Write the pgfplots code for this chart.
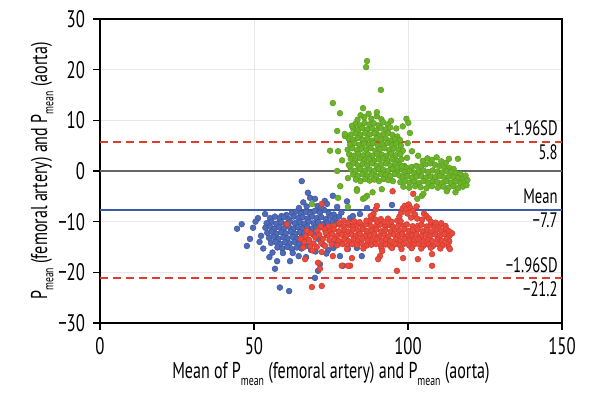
\documentclass[border=0pt]{standalone}
\usepackage{pgfplots}
\pgfplotsset{compat=1.18}
\usepackage{fontspec}
\setmainfont{PT Sans}[FakeStretch=0.7]
\definecolor{cblue}{HTML}{4F6BB8}
\definecolor{cbluee}{HTML}{3A54A0}
\definecolor{cred}{HTML}{EA4A3C}
\definecolor{crede}{HTML}{D03A2C}
\definecolor{cgreen}{HTML}{6DB32A}
\definecolor{cgreene}{HTML}{5A9E1E}
\definecolor{cmean}{HTML}{3D5AA8}
\definecolor{cdash}{HTML}{E03C2C}
\newcommand{\Pm}{P\raisebox{-0.55ex}{\fontsize{7}{7}\selectfont mean}}
\begin{document}
\begin{tikzpicture}
\begin{axis}[
  scale only axis, width=231bp, height=152bp,
  xmin=0, xmax=150, ymin=-30, ymax=30,
  xtick={0,50,100,150}, xticklabels={0,50,100,150},
  ytick={-30,-20,-10,0,10,20,30},
  yticklabels={−30,−20,−10,0,10,20,30},
  xtick pos=bottom, ytick pos=left,
  tick align=outside, major tick length=3.5bp,
  tick style={black, line width=0.8bp},
  axis line style={black, line width=0.9bp},
  grid=major, grid style={black!9, line width=0.4bp},
  ticklabel style={font=\fontsize{12}{13}\selectfont},
  yticklabel style={xshift=-0.5bp},
  xlabel={Mean of \Pm{} (femoral artery) and \Pm{} (aorta)},
  ylabel={\Pm{} (femoral artery) and \Pm{} (aorta)},
  label style={font=\fontsize{11.5}{13}\selectfont},
  xlabel style={at={(axis description cs:0.5,0)}, anchor=base, yshift=-28bp},
  ylabel style={at={(axis description cs:-0.1147,0.5)}, anchor=base},
  clip=true,
]
% blue series
\addplot[only marks, mark=*, mark size=1.45bp, mark options={fill=cblue, draw=cbluee, line width=0.25bp}] coordinates {
(62.3,-8.3)(63.8,-8.0)(65.2,-8.4)(66.9,-8.1)(68.3,-8.5)(69.7,-7.9)(71.4,-8.2)(72.8,-7.7)(74.3,-8.4)(75.9,-8.6)(60.5,-8.7)(58.9,-8.9)
(55.2,-9.3)(56.8,-9.0)(58.3,-9.4)(59.7,-9.1)(61.2,-9.5)(62.9,-9.0)(64.4,-9.3)(65.8,-9.1)(67.3,-9.4)(68.9,-9.0)(70.4,-9.3)(71.8,-9.1)(73.3,-9.5)(74.8,-9.0)(76.4,-9.4)(77.6,-9.0)
(54.1,-10.3)(55.7,-10.0)(57.2,-10.4)(58.8,-10.1)(60.3,-10.5)(61.7,-10.0)(63.3,-10.3)(64.9,-10.1)(66.2,-10.4)(67.8,-10.0)(69.4,-10.3)(70.8,-10.1)(72.3,-10.5)(73.9,-10.2)(75.5,-10.0)(76.8,-10.4)
(53.7,-11.2)(55.2,-11.0)(56.6,-11.4)(58.2,-11.1)(59.7,-11.3)(61.3,-11.0)(62.8,-11.4)(64.3,-11.1)(65.7,-11.3)(67.3,-11.0)(68.8,-11.4)(70.2,-11.2)(71.8,-11.0)(73.2,-11.3)
(54.3,-12.2)(55.8,-12.0)(57.3,-12.4)(58.8,-12.1)(60.3,-12.3)(61.9,-12.0)(63.4,-12.4)(64.9,-12.1)(66.3,-12.3)(67.8,-12.0)
(54.9,-13.2)(56.4,-13.0)(57.9,-13.4)(59.5,-13.1)(60.9,-13.3)(62.5,-13.0)(64.0,-13.4)(65.4,-13.1)(66.6,-13.5)
(55.5,-14.2)(57.0,-14.0)(58.6,-14.4)(60.1,-14.1)(61.6,-14.3)(63.1,-14.0)(64.6,-14.4)(66.1,-14.2)(67.5,-14.8)
(57.6,-15.1)(59.2,-15.3)(60.8,-15.0)(62.3,-15.4)(63.9,-15.1)(65.4,-15.3)(68.5,-15.6)(70.0,-15.9)
(69.3,-12.5)(70.8,-13.4)(72.4,-14.5)(74.1,-15.6)(75.8,-15.2)(73.5,-16.3)(76.6,-14.0)
(65.5,-2.0)(67.5,-4.3)(68.2,-5.3)(69.8,-5.5)(73,-5.9)(73.7,-6.5)(70.6,-6.9)(71.9,-7.2)(67.1,-7.0)(64.6,-7.3)(66.0,-6.2)(75.6,-4.9)(80.2,-6.0)(77.0,-7.1)(78.4,-8.2)(81.2,-9.3)(82.1,-8.9)(84.4,-8.5)(86.7,-7.3)(94.8,-6.7)(80.5,-15.4)(83.4,-15.2)(77.9,-16.8)(78.9,-18.7)(85,-16.8)
(44.5,-11.4)(46,-10.5)(47.7,-14.8)(48.7,-13.4)(51.3,-9.3)(53.6,-8.5)(49.7,-11.2)(52.3,-12.8)(51.8,-14.0)(50.5,-10.0)(53.0,-15.3)(56.0,-16.1)
(56.8,-19.3)(57.5,-17.8)(61.7,-17.8)(58.4,-23)(61.4,-23.7)(69.8,-21.1)(70.8,-19.7)(71.4,-18.4)(59.4,-16.2)(62.6,-16.2)(64.5,-16.8)(66.9,-17.0)(55.0,-17.0)
};
% red series
\addplot[only marks, mark=*, mark size=1.45bp, mark options={fill=cred, draw=crede, line width=0.25bp}] coordinates {
(76,-10.8)(77.8,-10.6)(79.1,-10.95)(80.9,-10.7)(82.2,-11.0)(83.6,-10.65)(85.2,-10.85)(86.3,-10.55)(88,-10.9)(89.8,-10.8)(90.9,-10.6)(92.6,-10.95)(94.1,-10.7)(95.2,-11.0)(97.1,-10.65)(98.7,-10.85)(99.6,-10.55)(101.5,-10.9)(103.3,-10.8)(104.4,-10.6)(106.1,-10.95)(107.6,-10.7)(108.7,-11.0)(110.6,-10.65)(112.2,-10.85)
(74.7,-11.75)(75.9,-11.55)(77.6,-11.9)(79.4,-11.65)(80.6,-11.95)(82.1,-11.6)(83.9,-11.8)(85.3,-11.5)(86.6,-11.85)(88.2,-11.75)(89.7,-11.55)(91.3,-11.9)(92.6,-11.65)(94.4,-11.95)(95.8,-11.6)(97.2,-11.8)(98.9,-11.5)(100.3,-11.85)(101.6,-11.75)(103.2,-11.55)(104.8,-11.9)(106.2,-11.65)(107.5,-11.95)(109.3,-11.6)(110.8,-11.8)(112.4,-11.5)(113.3,-11.9)
(73.8,-12.7)(75.3,-12.5)(76.9,-12.85)(78.6,-12.6)(79.9,-12.9)(81.7,-12.55)(83.1,-12.75)(84.4,-12.45)(86.2,-12.8)(87.7,-12.7)(89.1,-12.5)(90.8,-12.85)(92.3,-12.6)(93.6,-12.9)(95.4,-12.55)(96.8,-12.75)(98.1,-12.45)(99.9,-12.8)(101.3,-12.7)(102.7,-12.5)(104.4,-12.85)(105.8,-12.6)(107.1,-12.9)(108.9,-12.55)(110.3,-12.75)(111.8,-12.45)(113.5,-12.8)
(74.5,-13.65)(76.1,-13.45)(77.5,-13.8)(79.3,-13.55)(80.7,-13.85)(82.4,-13.5)(83.8,-13.7)(85.1,-13.4)(86.9,-13.75)(88.4,-13.65)(89.8,-13.45)(91.5,-13.8)(92.9,-13.55)(94.3,-13.85)(96.1,-13.5)(97.5,-13.7)(98.8,-13.4)(100.6,-13.75)(102,-13.65)(103.4,-13.45)(105.1,-13.8)(106.5,-13.55)(107.9,-13.85)(109.6,-13.5)(111,-13.7)(112.6,-13.4)(113.4,-13.9)
(75.2,-14.5)(77,-14.65)(78.7,-14.4)(80.3,-14.7)(81.9,-14.45)(83.4,-14.6)(85,-14.35)(86.6,-14.7)(88.1,-14.55)(89.6,-14.4)(91.2,-14.75)(92.7,-14.5)(94.2,-14.8)(95.9,-14.45)(97.4,-14.65)(98.8,-14.35)(100.4,-14.7)(101.9,-14.55)(103.5,-14.4)(105,-14.75)(106.6,-14.5)(108.1,-14.8)(109.7,-14.45)(111.2,-14.65)(112.7,-14.4)
(91.4,-15.3)(94.8,-15.2)(97.9,-15.4)(101.2,-15.25)(104.3,-15.3)(107.4,-15.15)(110.5,-15.3)(113.2,-15.0)(85.5,-15.3)(80.2,-15.4)
(87.6,-9.9)(88.2,-9.2)(88.8,-8.5)(89.4,-9.6)(87.9,-8.9)(90.1,-10.0)(86.5,-9.8)(91.2,-9.5)(89.5,-7.6)(89.9,-6.9)
(96.5,-9.8)(97.2,-9.0)(97.8,-8.2)(98.3,-7.4)(98.9,-6.9)(99.5,-7.6)(100.2,-6.6)(100.8,-7.3)(101.6,-7.9)(102.3,-8.6)(103,-9.4)(99.8,-8.4)(101,-9.2)(97.6,-9.9)(102.8,-7.0)
(105.2,-8.4)(106,-8.9)(106.8,-9.4)(104.6,-9.6)(107.4,-10.0)
(92.4,-10.1)(93.5,-9.4)(94.6,-10.0)(84.3,-10.1)(82.5,-9.9)(80.6,-10.2)(79.1,-9.8)(77.6,-10.3)(109,-10.2)(110.8,-10.3)
(95,-4.0)(101.7,-4.5)(91.6,-15.8)(90.9,-16.8)(90.3,-17.4)(96.4,-19.7)(98.4,-17.2)(103.2,-17.4)(107.8,-16.4)(107.8,-18.7)(113.6,-15.4)(81.8,-17.2)(81.2,-18.7)(75.6,-16.8)(66.6,-17.4)(70.8,-18.1)(71.4,-19.3)(68.8,-22.9)(72,-22.7)(78.5,-18.7)(80.5,-18.7)(60.7,-10.5)(72,-6.5)(114.3,-12.3)
(65.2,-13.4)(66.3,-14.0)(66.8,-12.9)(67.9,-13.6)(68.4,-12.3)(69.3,-14.3)(69.9,-13.1)(70.6,-11.8)(71.2,-12.6)(71.8,-14.1)(72.4,-13.4)(72.9,-11.5)(73.3,-12.2)(73.1,-14.8)(70.4,-15.0)(68.2,-14.9)(67.2,-11.8)(71.7,-10.9)(74.2,-10.9)(72.0,-16.0)(69.0,-15.7)(66.0,-15.1)
};
% green series
\addplot[only marks, mark=*, mark size=1.45bp, mark options={fill=cgreen, draw=cgreene, line width=0.25bp}] coordinates {
(83.6,10.1)(85.8,10.6)(88.1,10.3)(89.9,10.8)(91.4,10.2)(99.5,10.3)(87.2,11.3)(84.6,11.0)
(82.9,9.3)(84.4,9.0)(85.9,9.5)(87.5,9.2)(88.9,9.4)(90.4,9.0)(91.9,9.6)(93.4,9.2)(100.1,9.5)
(82.2,8.4)(83.8,8.1)(85.2,8.5)(86.8,8.2)(88.3,8.4)(89.7,8.0)(91.2,8.5)(92.8,8.2)(94.2,8.6)
(81.5,7.2)(83.0,7.4)(84.5,7.1)(86.1,7.5)(87.5,7.2)(89.1,7.4)(90.6,7.0)(92.0,7.3)(93.6,7.5)(95.0,7.1)(96.5,6.8)(100.6,7.5)
(80.7,6.4)(82.3,6.1)(83.8,6.5)(85.3,6.2)(86.8,6.4)(88.3,6.0)(89.8,6.5)(91.3,6.2)(92.8,6.4)(94.3,6.0)(95.8,6.3)(97.4,6.1)
(81.2,5.2)(82.7,5.5)(84.2,5.1)(85.8,5.4)(87.3,5.2)(88.7,5.5)(90.3,5.0)(91.7,5.3)(93.3,5.5)(94.8,5.1)(96.2,5.4)(97.7,5.0)(99.9,5.5)
(80.4,4.2)(81.9,4.5)(83.4,4.1)(84.9,4.4)(86.4,4.2)(87.9,4.5)(89.4,4.0)(90.9,4.3)(92.4,4.5)(93.9,4.1)(95.4,4.4)(96.9,4.2)(98.3,4.0)(101.3,3.9)
(80.9,3.3)(82.4,3.0)(83.9,3.4)(85.5,3.1)(87.0,3.3)(88.5,3.0)(90.0,3.4)(91.5,3.2)(93.0,3.0)(94.5,3.4)(96.0,3.1)(97.5,3.3)(99.7,2.6)
(81.4,2.4)(82.9,2.1)(84.4,2.5)(85.9,2.2)(87.4,2.4)(88.9,2.0)(90.4,2.3)(91.9,2.5)(93.4,2.1)(94.9,2.4)(96.4,2.0)(97.9,2.3)
(80.8,1.2)(82.3,1.5)(83.8,1.1)(85.3,1.4)(86.8,1.2)(88.3,1.5)(89.8,1.0)(91.3,1.3)(92.8,1.5)(94.3,1.1)(95.8,1.4)(97.3,1.2)(98.8,1.0)
(81.5,0.3)(83.0,0.0)(84.5,0.4)(86.0,0.1)(87.5,0.3)(89.0,0.0)(90.5,0.4)(92.0,0.2)(93.5,0.0)(95.0,0.4)(96.5,0.1)(98.0,0.3)
(82.2,-0.7)(83.7,-1.0)(85.2,-0.6)(86.7,-0.9)(88.2,-0.7)(89.7,-1.0)(91.2,-0.6)(92.7,-0.8)(94.2,-1.0)(95.7,-0.6)(97.2,-0.9)
(83.1,-1.7)(84.6,-2.0)(86.1,-1.6)(87.6,-1.9)(89.1,-1.7)(90.6,-2.0)(92.1,-1.6)(93.6,-1.8)(95.1,-2.0)
(77,7.9)(77.3,3.9)(74.7,4.0)(79.5,6.9)(81.8,8.9)(77,0.0)(80.5,-1.4)(81,1.0)(83.4,-3.6)(85.4,-5.5)(77.3,-5.3)(78,-3.0)(68.8,-6.5)(80.5,-7.1)(79.5,7.3)(78.6,2.1)(75.6,13.4)(77.9,11.4)
(86.7,21.7)(86.4,20.5)(91.2,16.0)(85.4,12.4)(89.9,11.6)(94.5,9.9)(96.2,8.4)(98.3,8.8)
(86.7,-4.9)(83.4,-3.9)(86,-5.3)(103,-5.5)(104.5,-4.9)(105,-4.5)(88.5,-4.2)(91.5,-3.6)
(96.5,0.7)(98.1,0.9)(99.6,0.6)(101.2,0.8)(102.7,1.0)(104.2,0.9)(105.7,1.3)(107.2,1.5)(108.8,1.2)(110.3,1.0)(111.8,0.8)(113.4,0.6)(114.8,0.4)(104.8,2.0)(106.3,2.5)(107.8,2.2)(109.3,2.7)(110.8,1.9)(112.3,1.6)(113.3,2.4)(116.2,2.4)(103.3,3.0)
(99.0,-0.2)(100.5,0.0)(102.0,-0.3)(103.5,-0.1)(105.0,0.1)(106.5,-0.2)(108.0,0.1)(109.5,-0.1)(111.0,-0.3)(112.5,0.0)(114.0,-0.2)(115.5,-0.4)(117.0,-0.6)
(98.3,-1.2)(99.8,-1.0)(101.3,-1.3)(102.8,-1.1)(104.3,-1.0)(105.8,-1.3)(107.3,-1.1)(108.8,-1.2)(110.3,-1.0)(111.8,-1.3)(113.3,-1.1)(114.8,-1.2)(116.3,-1.4)(117.8,-1.5)
(97.5,-2.2)(99.0,-2.0)(100.5,-2.3)(102.0,-2.1)(103.5,-2.4)(105.0,-2.0)(106.5,-2.3)(108.0,-2.1)(109.5,-2.2)(111.0,-2.4)(112.5,-2.0)(114.0,-2.3)(115.5,-2.1)(117.0,-2.4)(118.4,-2.2)
(98.5,-3.1)(100.4,-3.3)(102.3,-3.0)(104.1,-3.2)(106.0,-3.4)(107.8,-3.0)(109.7,-3.3)(111.5,-3.1)(113.2,-3.3)(114.8,-3.0)(116.3,-3.4)(117.8,-3.1)(119.0,-2.8)(112.6,-4.0)(115.4,-4.2)(118.7,-0.9)(119.3,-1.8)
};
% reference lines
\addplot[black!60, line width=0.8bp, forget plot] coordinates {(0,0)(150,0)};
\addplot[cmean, line width=1bp, forget plot] coordinates {(0,-7.7)(150,-7.7)};
\addplot[cdash, line width=1bp, dash pattern=on 4bp off 2.5bp, forget plot] coordinates {(0,5.8)(150,5.8)};
\addplot[cdash, line width=1bp, dash pattern=on 4bp off 2.5bp, forget plot] coordinates {(0,-21.2)(150,-21.2)};
\node[anchor=base east, font=\fontsize{10.5}{11}\selectfont, inner sep=0pt] at (axis cs:148.7,7.0) {+1.96SD};
\node[anchor=base east, font=\fontsize{10.5}{11}\selectfont, inner sep=0pt] at (axis cs:148.7,2.3) {5.8};
\node[anchor=base east, font=\fontsize{10.5}{11}\selectfont, inner sep=0pt] at (axis cs:148.7,-6.5) {Mean};
\node[anchor=base east, font=\fontsize{10.5}{11}\selectfont, inner sep=0pt] at (axis cs:148.7,-11.2) {−7.7};
\node[anchor=base east, font=\fontsize{10.5}{11}\selectfont, inner sep=0pt] at (axis cs:148.7,-20.0) {−1.96SD};
\node[anchor=base east, font=\fontsize{10.5}{11}\selectfont, inner sep=0pt] at (axis cs:148.7,-24.7) {−21.2};
\end{axis}
\pgfresetboundingbox
\path (current axis.south west) ++(-50bp,-38.5bp) coordinate (bbsw);
\path (current axis.north east) ++(19bp,9.5bp) coordinate (bbne);
\path[use as bounding box] (bbsw) rectangle (bbne);
\end{tikzpicture}
\end{document}
